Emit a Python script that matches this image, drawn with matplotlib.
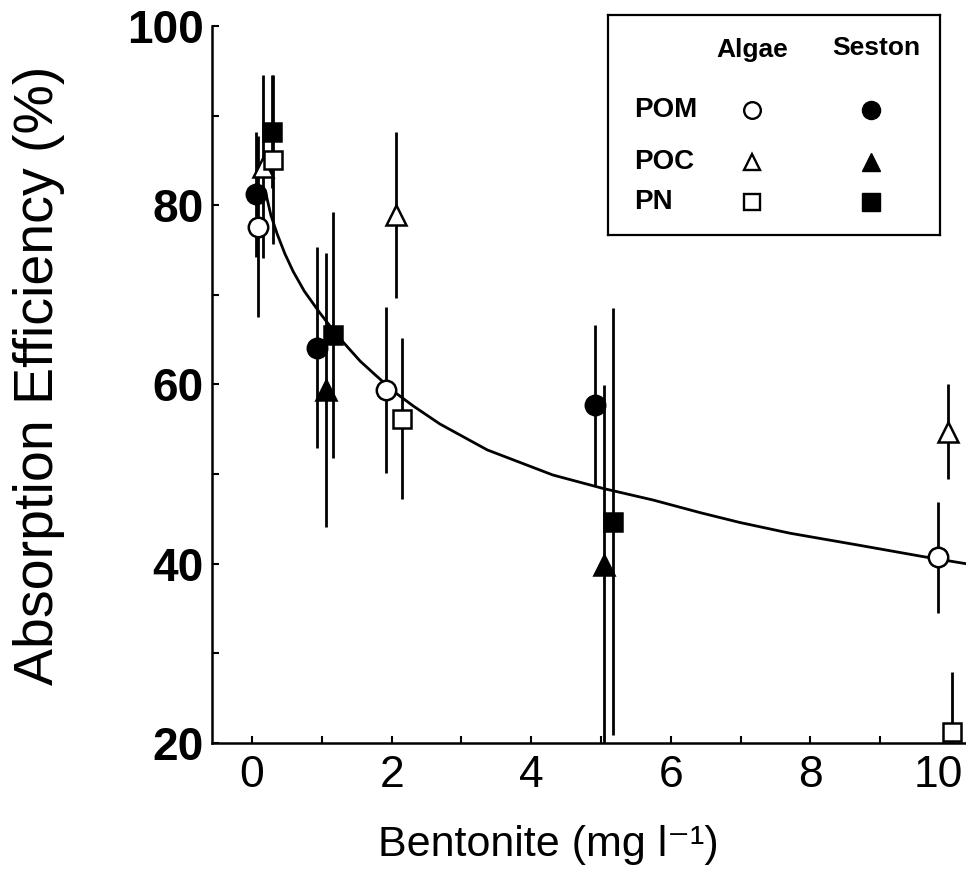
import numpy as np
import matplotlib.pyplot as plt
import matplotlib.transforms as mtransforms

plt.rcParams['font.family'] = ['Liberation Sans', 'DejaVu Sans']

# Algae (open symbols): bentonite, efficiency, error
alg_pom_x = [0.08, 1.92, 9.83]
alg_pom_y = [77.6, 59.4, 40.7]
alg_pom_e = [10.1, 9.3, 6.2]
alg_poc_x = [0.16, 2.06, 9.97]
alg_poc_y = [84.3, 78.9, 54.7]
alg_poc_e = [10.2, 9.3, 5.3]
alg_pn_x = [0.30, 2.15, 10.03]
alg_pn_y = [85.1, 56.2, 21.2]
alg_pn_e = [9.4, 9.0, 6.7]

# Seston (filled symbols)
ses_pom_x = [0.06, 0.93, 4.91]
ses_pom_y = [81.2, 64.1, 57.7]
ses_pom_e = [7.0, 11.2, 8.9]
ses_poc_x = [1.06, 5.04]
ses_poc_y = [59.4, 39.9]
ses_poc_e = [15.3, 20.0]
ses_pn_x = [0.29, 1.16, 5.17]
ses_pn_y = [88.2, 65.5, 44.7]
ses_pn_e = [6.3, 13.7, 23.8]

# fitted curve
curve_x = [0.19, 0.27, 0.36, 0.47, 0.59, 0.75, 0.97, 1.15, 1.32, 1.55, 1.79,
           2.05, 2.31, 2.69, 3.37, 4.31, 5.03, 5.75, 6.42, 6.99, 7.71, 8.67,
           9.61, 10.23]
curve_y = [81.6, 78.9, 76.8, 74.6, 72.6, 70.4, 68.0, 66.2, 64.6, 62.6, 60.9,
           59.1, 57.6, 55.6, 52.7, 49.9, 48.4, 47.1, 45.7, 44.6, 43.4, 42.1,
           40.8, 40.0]

x_ticks = [0, 2, 4, 6, 8, 10]
y_ticks = [20, 40, 60, 80, 100]

fig = plt.figure(figsize=(9.66, 8.9), dpi=100)
ax = fig.add_axes([0.2195, 0.1652, 0.7805, 0.8056])

ax.plot(curve_x, curve_y, color='black', lw=2.0, zorder=2)

series = [
    (alg_pom_x, alg_pom_y, alg_pom_e, 'o', 'white'),
    (alg_poc_x, alg_poc_y, alg_poc_e, '^', 'white'),
    (alg_pn_x, alg_pn_y, alg_pn_e, 's', 'white'),
    (ses_pom_x, ses_pom_y, ses_pom_e, 'o', 'black'),
    (ses_poc_x, ses_poc_y, ses_poc_e, '^', 'black'),
    (ses_pn_x, ses_pn_y, ses_pn_e, 's', 'black'),
]
sizes = {'o': 14, '^': 14, 's': 13}
for x, y, e, m, fc in series:
    ax.errorbar(x, y, yerr=e, fmt='none', ecolor='black', elinewidth=2.0,
                capsize=0, zorder=3)
    ax.plot(x, y, linestyle='none', marker=m, markersize=sizes[m],
            markerfacecolor=fc, markeredgecolor='black', markeredgewidth=1.8,
            zorder=4, clip_on=False)

ax.set_xlim(-0.573, 10.229)
ax.set_ylim(20, 100)
ax.set_xticks(x_ticks)
ax.set_xticks([1, 3, 5, 7, 9], minor=True)
ax.set_yticks(y_ticks)
ax.set_yticks([30, 50, 70, 90], minor=True)
ax.spines['top'].set_visible(False)
ax.spines['right'].set_visible(False)
for s in ['left', 'bottom']:
    ax.spines[s].set_linewidth(1.8)
ax.tick_params(which='both', direction='in', length=5, width=1.5)
ax.tick_params(axis='x', labelsize=32, pad=9)
ax.tick_params(axis='y', labelsize=33, pad=6)
for lab in ax.get_yticklabels():
    lab.set_fontweight('bold')
# pull the last x label in a little so it stays inside the figure
last = ax.get_xticklabels()[-1]
last.set_transform(last.get_transform() +
                   mtransforms.ScaledTranslation(-0.12, 0, fig.dpi_scale_trans))

ax.set_xlabel('Bentonite (mg l\u207b\u00b9)', fontsize=31)
ax.xaxis.set_label_coords(0.446, -0.115)
ax.set_ylabel('Absorption Efficiency (%)', fontsize=40)
ax.yaxis.set_label_coords(-0.195, 0.513)

# legend panel
lg = fig.add_axes([0.629, 0.736, 0.344, 0.247])
lg.set_xlim(0, 1)
lg.set_ylim(0, 1)
lg.set_xticks([])
lg.set_yticks([])
for s in lg.spines.values():
    s.set_linewidth(1.6)
lg.text(0.434, 0.84, 'Algae', ha='center', va='center', fontsize=19, fontweight='bold')
lg.text(0.81, 0.85, 'Seston', ha='center', va='center', fontsize=19, fontweight='bold')
rows = ['POM', 'POC', 'PN']
row_y = [0.57, 0.33, 0.15]
row_m = ['o', '^', 's']
for r, yy, m in zip(rows, row_y, row_m):
    lg.text(0.08, yy, r, ha='left', va='center', fontsize=20, fontweight='bold')
    lg.plot([0.434], [yy], marker=m, markersize=12, markerfacecolor='white',
            markeredgecolor='black', markeredgewidth=1.7)
    lg.plot([0.792], [yy], marker=m, markersize=13, markerfacecolor='black',
            markeredgecolor='black')

fig.savefig('out.png', dpi=100)
